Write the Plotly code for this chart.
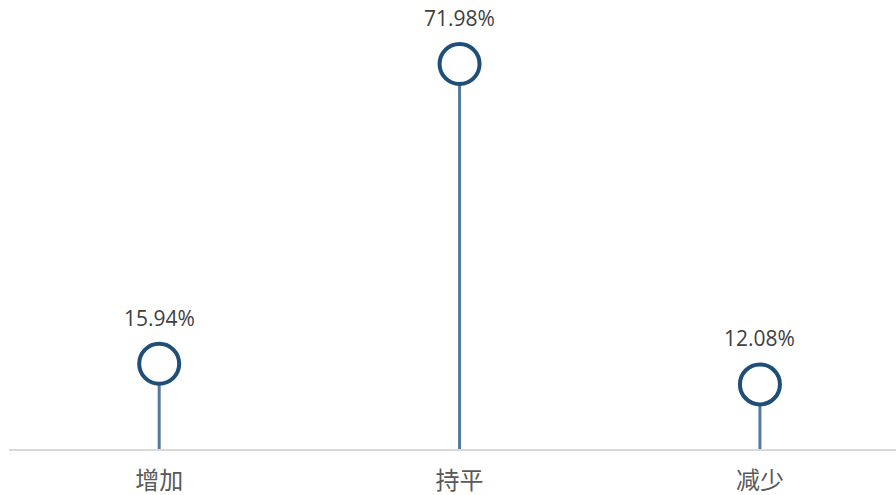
import plotly.graph_objects as go

categories = ["增加", "持平", "减少"]
values = [15.94, 71.98, 12.08]
value_labels = ["15.94%", "71.98%", "12.08%"]

xs = list(range(len(categories)))

stem_x, stem_y = [], []
for i, v in zip(xs, values):
    stem_x += [i, i, None]
    stem_y += [0, v, None]

fig = go.Figure()
fig.add_trace(go.Scatter(
    x=stem_x, y=stem_y, mode="lines",
    line=dict(color="#55799e", width=3),
    hoverinfo="skip", showlegend=False, cliponaxis=False,
))
fig.add_trace(go.Scatter(
    x=xs, y=values, mode="markers",
    marker=dict(size=40, color="white", line=dict(color="#1f4e79", width=4)),
    showlegend=False, cliponaxis=False, hoverinfo="skip",
))

for i, v, lab in zip(xs, values, value_labels):
    fig.add_annotation(
        x=i, y=v, text=lab, showarrow=False, yshift=46,
        font=dict(family="Open Sans, Liberation Sans, sans-serif", size=21, color="#404040"),
    )

fig.update_layout(
    width=896, height=495,
    margin=dict(l=9, r=0, t=0, b=46, autoexpand=False),
    paper_bgcolor="white", plot_bgcolor="white",
    xaxis=dict(
        range=[-0.5, 2.453], tickmode="array", tickvals=xs, ticktext=categories,
        showgrid=False, zeroline=False, showline=True, linecolor="#d9d9d9", linewidth=2,
        ticks="outside", ticklen=9, tickcolor="rgba(0,0,0,0)",
        tickfont=dict(family="Noto Sans CJK SC, sans-serif", size=24, color="#595959"),
        fixedrange=True, automargin=False,
    ),
    yaxis=dict(
        range=[0, 83.95], visible=False, showgrid=False, zeroline=False, fixedrange=True,
        automargin=False,
    ),
)

fig.write_html(
    "out.html",
    config={"displayModeBar": False},
    post_script="document.body.style.margin='0';document.body.style.overflow='hidden';",
)
